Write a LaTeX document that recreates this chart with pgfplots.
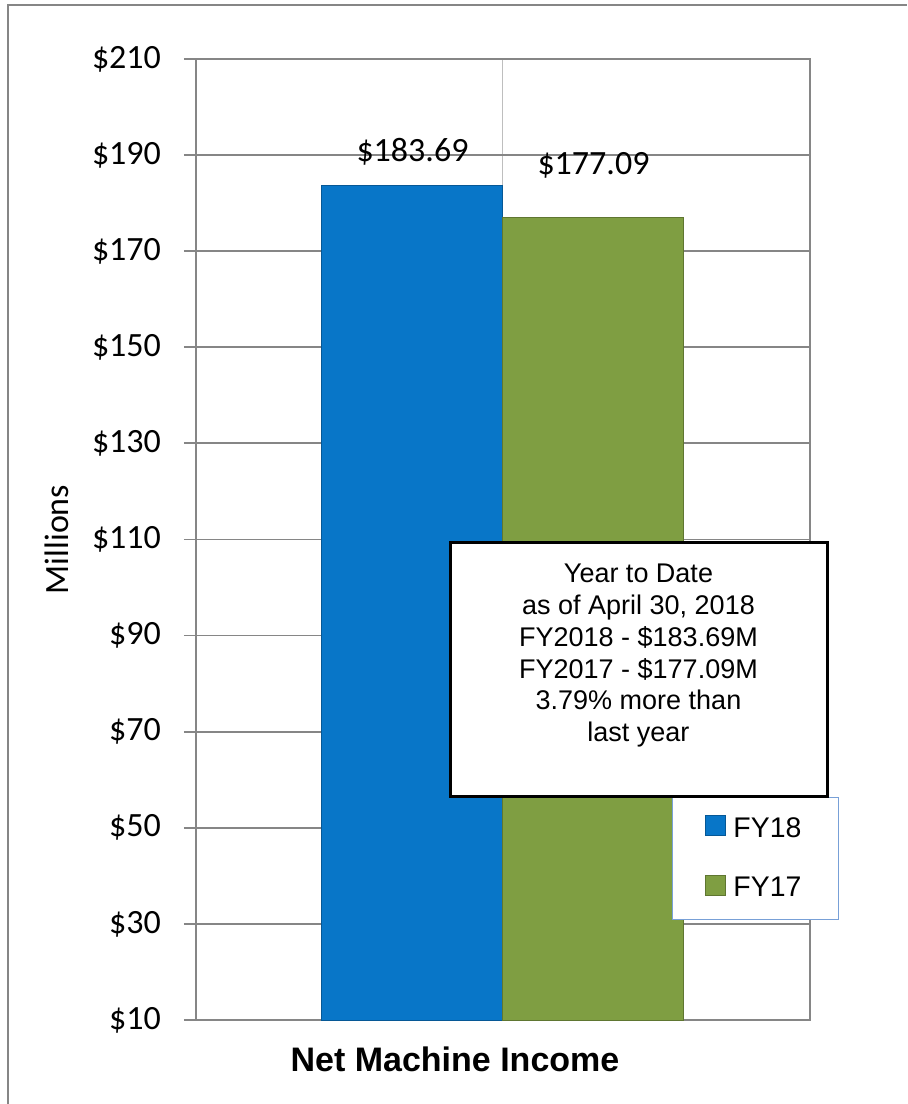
\documentclass[border=0pt]{standalone}
\usepackage{fontspec}
\setmainfont{Liberation Sans}
\newfontfamily\carlito{Carlito}
\usepackage{pgfplots}
\pgfplotsset{compat=1.18}
\definecolor{barblue}{RGB}{8,118,200}
\definecolor{bargreen}{RGB}{127,158,66}
\definecolor{gridgray}{RGB}{134,134,134}
\definecolor{vgridgray}{RGB}{190,190,190}
\definecolor{legblue}{RGB}{120,160,215}
\begin{document}
\begin{tikzpicture}
\useasboundingbox (0,0) rectangle (453.5pt,552pt);
\draw[gridgray, line width=1pt] (4.2pt,0) -- (4.2pt,549.5pt) -- (453.5pt,549.5pt);
\begin{axis}[
  at={(98pt,42pt)}, anchor=south west,
  scale only axis, width=307pt, height=480.5pt,
  xmin=-0.5, xmax=0.5, ymin=10, ymax=210,
  ybar=0pt, bar width=0.2948,
  xtick={0}, xticklabels={},
  ytick={10,30,...,210},
  yticklabels={\$10,\$30,\$50,\$70,\$90,\$110,\$130,\$150,\$170,\$190,\$210},
  ymajorgrids, xmajorgrids,
  y grid style={gridgray, line width=0.9pt},
  x grid style={vgridgray, line width=0.5pt},
  axis line style={gridgray, line width=1pt},
  ytick pos=left,
  tick align=outside,
  major tick length=6pt,
  ytick style={gridgray, line width=0.9pt},
  xtick style={draw=none},
  yticklabel style={font=\carlito\fontsize{17}{20}\selectfont, text=black, xshift=-8pt},
  ylabel={Millions},
  ylabel style={at={(axis description cs:-0.2264,0.5)}, anchor=center, font=\carlito\fontsize{17}{20}\selectfont},
  xlabel={Net Machine Income},
  xlabel style={at={(axis description cs:0.4218,-0.0541)}, anchor=base, font=\bfseries\fontsize{17}{20}\selectfont},
  legend style={at={(axis description cs:0.7752,0.2320)}, anchor=north west, draw=legblue, line width=0.5pt, fill=white,
    font=\fontsize{14.2}{16}\selectfont, inner xsep=16.5pt, inner ysep=8pt, row sep=14.5pt, column sep=1.5pt},
  legend cell align=left,
  legend image code/.code={\fill[#1] (0pt,-3.5pt) rectangle (10pt,6.5pt);},
  nodes near coords={\$\pgfmathprintnumber[fixed,fixed zerofill,precision=2,assume math mode=true]{\pgfplotspointmeta}},
  nodes near coords style={font=\carlito\fontsize{17}{20}\selectfont, text=black, anchor=center},
]
\addplot[fill=barblue, draw=barblue!75!black, line width=0.5pt, nodes near coords style={yshift=17pt}] coordinates {(0,183.69)};
\addplot[fill=bargreen, draw=bargreen!75!black, line width=0.5pt, nodes near coords style={yshift=26pt}] coordinates {(0,177.09)};
\legend{FY18,FY17}
\end{axis}
\draw[black, line width=1.5pt, fill=white] (225pt,280.5pt) rectangle (413.5pt,153.5pt);
\node[anchor=north, align=center, inner sep=0pt, font=\fontsize{13.5}{15.85}\selectfont] at (319.25pt,270pt)
  {Year to Date\\as of April 30, 2018\\FY2018 - \$183.69M\\FY2017 - \$177.09M\\3.79\% more than\\last year};
\end{tikzpicture}
\end{document}
